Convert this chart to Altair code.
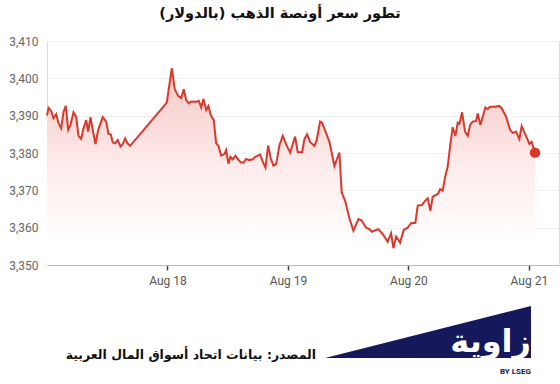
import altair as alt
import pandas as pd

# hours after 2025-08-17 00:00, and gold price (USD/oz)
hours = [0.0, 0.3, 0.84, 1.29, 1.83, 2.29, 2.83, 3.29, 3.74, 4.22, 4.68, 5.28, 5.82, 6.27, 6.81,
         7.27, 7.81, 8.21, 8.66, 9.12, 9.66, 10.2, 11.11, 11.79, 12.25, 12.71, 13.1, 13.58, 14.1,
         14.64, 15.1, 15.57, 16.03, 16.57, 23.86, 24.86, 25.45, 26.13, 26.73, 27.25, 27.72, 28.24,
         28.72, 29.72, 30.23, 30.71, 31.17, 31.71, 32.16, 32.62, 33.22, 33.7, 34.16, 34.69, 35.35,
         35.69, 36.15, 36.55, 37.0, 37.54, 38.08, 38.6, 39.14, 39.67, 40.33, 40.99, 41.47, 42.46,
         42.98, 43.52, 44.05, 44.57, 45.11, 45.65, 46.31, 46.96, 47.64, 48.44, 49.43, 49.95, 50.83,
         51.28, 51.82, 52.42, 53.28, 53.73, 54.41, 54.81, 56.26, 57.26, 58.25, 58.71, 59.39, 60.25,
         61.04, 62.04, 62.7, 63.57, 64.23, 64.69, 66.02, 66.88, 67.87, 68.55, 69.01, 69.55, 70.34,
         71.06, 71.86, 72.53, 73.39, 73.85, 74.73, 75.32, 75.84, 76.38, 76.84, 77.51, 77.97, 78.31,
         78.83, 79.31, 79.82, 80.3, 80.82, 81.36, 81.82, 82.16, 82.69, 83.29, 83.81, 84.29, 84.8,
         85.48, 85.8, 86.34, 86.8, 87.33, 87.79, 88.27, 89.33, 90.12, 90.66, 91.46, 92.25, 92.77,
         93.45, 94.1, 94.56, 95.24, 95.76, 96.1, 96.55, 97.23]
price = [3390.0, 3392.1, 3391.2, 3389.3, 3390.4, 3388.0, 3386.6, 3391.0, 3392.6, 3386.2, 3387.5,
         3390.9, 3389.6, 3384.6, 3383.8, 3386.6, 3388.8, 3385.7, 3389.6, 3386.2, 3382.4, 3386.2,
         3389.6, 3388.4, 3385.1, 3385.0, 3382.8, 3382.6, 3383.5, 3381.7, 3382.4, 3383.9, 3382.6,
         3381.9, 3393.5, 3402.7, 3397.1, 3395.3, 3394.7, 3397.1, 3394.2, 3393.3, 3393.8, 3393.7,
         3394.0, 3392.2, 3394.5, 3391.5, 3392.6, 3390.2, 3388.8, 3382.6, 3381.9, 3379.3, 3379.7,
         3380.8, 3377.1, 3379.0, 3378.3, 3379.3, 3378.3, 3377.5, 3377.4, 3378.4, 3378.1, 3378.3,
         3379.0, 3379.6, 3377.7, 3376.1, 3382.0, 3378.6, 3376.6, 3377.0, 3382.1, 3384.6, 3382.3,
         3380.1, 3384.4, 3380.2, 3380.2, 3383.7, 3385.0, 3382.9, 3381.9, 3383.5, 3388.4, 3388.1,
         3383.0, 3376.5, 3380.1, 3369.4, 3367.2, 3362.5, 3359.2, 3362.3, 3361.9, 3360.0, 3359.6,
         3358.9, 3359.6, 3358.3, 3356.2, 3358.5, 3354.5, 3357.6, 3356.0, 3359.4, 3360.0, 3361.2,
         3361.3, 3365.9, 3366.1, 3367.2, 3367.9, 3364.5, 3368.3, 3368.8, 3369.2, 3370.3, 3369.9,
         3373.6, 3376.3, 3381.7, 3386.9, 3384.6, 3388.1, 3387.8, 3390.9, 3385.7, 3384.6, 3387.5,
         3388.4, 3388.6, 3390.6, 3387.5, 3389.7, 3392.2, 3391.8, 3392.4, 3392.4, 3392.6, 3391.8,
         3389.7, 3386.2, 3385.4, 3385.7, 3383.7, 3387.2, 3385.1, 3383.5, 3382.4, 3383.0, 3380.1]

tick_dates = [(8, 18), (8, 19), (8, 20), (8, 21)]
y_ticks = [3350, 3360, 3370, 3380, 3390, 3400, 3410]

title_text = "تطور سعر أونصة الذهب (بالدولار)"
source_text = "المصدر: بيانات اتحاد أسواق المال العربية"
logo_text = "زاوية"
logo_sub = "BY LSEG"

RED = "#d8392c"
NAVY = "#15195c"
AR_FONT = "DejaVu Sans"

df = pd.DataFrame({"h": hours, "price": price})
df["t"] = pd.Timestamp("2025-08-17") + pd.to_timedelta(df["h"], unit="h")
df_last = df.tail(1)

x_enc = alt.X(
    "t:T",
    scale=alt.Scale(domain=[alt.DateTime(year=2025, month=8, date=17, hours=0),
                            alt.DateTime(year=2025, month=8, date=21, hours=6)]),
    axis=alt.Axis(values=[alt.DateTime(year=2025, month=m, date=d) for m, d in tick_dates],
                  format="%b %d", title=None, grid=False, domainColor="#bbbbbb",
                  tickColor="#444444", tickSize=5, tickWidth=1.5, labelPadding=5,
                  tickCount=20,
                  labelFontSize=12, labelColor="#555555", labelFont="Roboto"),
)
y_enc = alt.Y(
    "price:Q",
    scale=alt.Scale(domain=[3350, 3410], zero=False, nice=False),
    axis=alt.Axis(values=y_ticks, tickCount=20, format=",.0f", title=None, domain=False,
                  ticks=False, gridColor="#efefef", labelPadding=9, labelFontSize=12,
                  labelOverlap=False, labelColor="#666666", labelFont="Roboto"),
)

base = alt.Chart(df)

area = base.mark_area(
    color=alt.Gradient(
        gradient="linear",
        stops=[alt.GradientStop(color="#f5c6c3", offset=0),
               alt.GradientStop(color="#fdeceb", offset=0.5),
               alt.GradientStop(color="#ffffff", offset=0.9)],
        x1=0, x2=0, y1=0, y2=1),
).encode(x=x_enc, y=y_enc, y2=alt.datum(3350))

line = base.mark_line(color=RED, strokeWidth=2).encode(x="t:T", y="price:Q")

dot = alt.Chart(df_last).mark_point(filled=True, color=RED, size=110, opacity=1).encode(
    x="t:T", y="price:Q")


def text_layer(label, **kw):
    return alt.Chart(pd.DataFrame({"label": [label]})).mark_text(**kw).encode(text="label:N")


title = text_layer(title_text, font=AR_FONT, fontSize=14.5, fontWeight="bold", color="#111111",
                   align="center", baseline="middle").encode(x=alt.value(233), y=alt.value(-27))

source = text_layer(source_text, font=AR_FONT, fontSize=12.5, fontWeight="bold", color="#111111",
                    align="right", baseline="middle").encode(x=alt.value(269), y=alt.value(314))

tri = alt.Chart(pd.DataFrame({"k": [1]})).mark_point(
    shape="M-1,0.2524L1,-0.2524L1,0.2524Z", filled=True, color=NAVY, opacity=1,
    size=42436, strokeWidth=0,
).encode(x=alt.value(381), y=alt.value(291))

logo = text_layer(logo_text, font=AR_FONT, fontSize=32, fontWeight="bold", color="#ffffff",
                  align="right", baseline="alphabetic").encode(x=alt.value(484), y=alt.value(311))

logo2 = text_layer(logo_sub, font="Roboto", fontSize=8, fontWeight="bold", color=NAVY,
                   align="right", baseline="middle").encode(x=alt.value(484), y=alt.value(331))

chart = alt.layer(area, line, dot, title, source, tri, logo, logo2).properties(
    width=512, height=224,
    autosize=alt.AutoSizeParams(type="none"),
    padding={"left": 47, "top": 41, "right": 1, "bottom": 119},
).configure_view(stroke=None).configure(background="#ffffff")

chart.save("out.html", embed_options={"renderer": "svg", "actions": False})
